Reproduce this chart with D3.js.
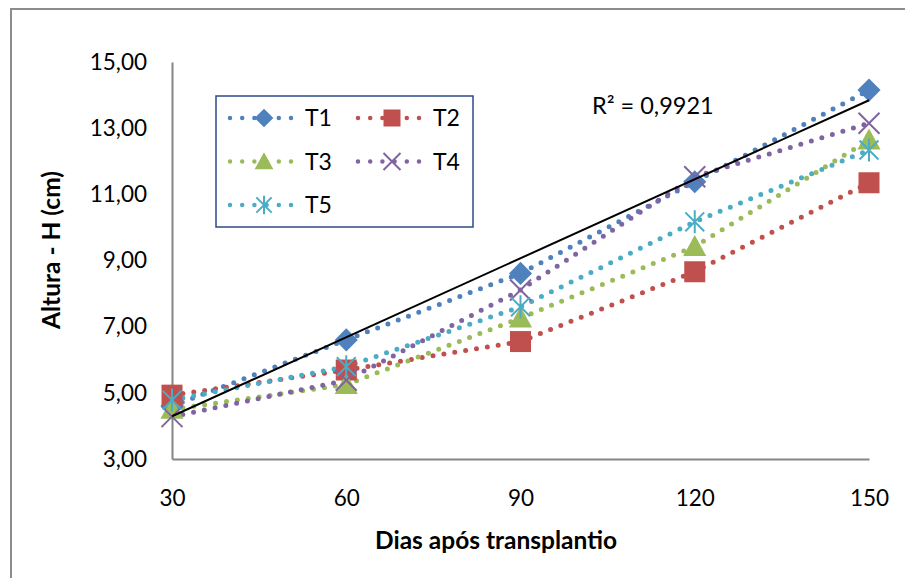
<!DOCTYPE html>
<html>
<head>
<meta charset="utf-8">
<script src="https://cdn.jsdelivr.net/npm/d3@7"></script>
<style>
  html, body { margin: 0; padding: 0; background: #fff; }
  svg { display: block; }
  text { font-family: Lato, "Open Sans", sans-serif; fill: #000; }
</style>
</head>
<body>
<svg id="chart" width="905" height="578"></svg>
<script>
// ---- data ----
const days = [30, 60, 90, 120, 150];
const T1 = [4.60, 6.60, 8.61, 11.38, 14.15];
const T2 = [4.93, 5.69, 6.55, 8.66, 11.35];
const T3 = [4.50, 5.25, 7.26, 9.42, 12.64];
const T4 = [4.28, 5.38, 8.11, 11.53, 13.15];
const T5 = [4.78, 5.79, 7.60, 10.17, 12.34];
const seriesNames = ["T1", "T2", "T3", "T4", "T5"];
const yTicks = [3, 5, 7, 9, 11, 13, 15];
const r2Label = "R² = 0,9921";
const xTitle = "Dias após transplantio";
const yTitle = "Altura - H (cm)";

const seriesValues = [T1, T2, T3, T4, T5];
const colors = ["#4F81BD", "#C0504D", "#9BBB59", "#8064A2", "#4BACC6"];
const shapes = ["diamond", "square", "triangle", "x", "star"];

const svg = d3.select("#chart");
// chart area border
svg.append("rect").attr("x", 11).attr("y", 9).attr("width", 920).attr("height", 600)
  .attr("fill", "#fff").attr("stroke", "#8c8c8c").attr("stroke-width", 2);

const x = d3.scaleLinear().domain([30, 150]).range([172, 869]);
const y = d3.scaleLinear().domain([3, 15]).range([459, 62]);
const fmt = v => d3.format(".2f")(v).replace(".", ",");

// axes
const yAxis = svg.append("g").attr("transform", `translate(${x(30)},0)`)
  .call(d3.axisLeft(y).tickValues(yTicks).tickSize(0).tickPadding(25).tickFormat(fmt));
const xAxis = svg.append("g").attr("transform", `translate(0,${y(3)})`)
  .call(d3.axisBottom(x).tickValues(days).tickSize(0).tickPadding(31).tickFormat(d3.format("d")));
[yAxis, xAxis].forEach(g => {
  g.select(".domain").attr("stroke", "#868686").attr("stroke-width", 2);
  g.selectAll("text").attr("font-size", 22.5).attr("font-family", "Lato, sans-serif").attr("fill", "#000");
});

// axis titles
svg.append("text").attr("x", 496).attr("y", 549).attr("text-anchor", "middle")
  .attr("font-size", 24.5).attr("font-weight", "bold").text(xTitle);
svg.append("text").attr("transform", "translate(60,250) rotate(-90)").attr("text-anchor", "middle")
  .attr("font-size", 24.5).attr("font-weight", "bold").text(yTitle);

// marker drawing
function marker(g, shape, color, cx, cy, s) {
  const k = s / 20;
  if (shape === "diamond") {
    g.append("path").attr("d", `M${cx},${cy - 11 * k}L${cx + 11 * k},${cy}L${cx},${cy + 11 * k}L${cx - 11 * k},${cy}Z`)
      .attr("fill", color);
  } else if (shape === "square") {
    g.append("rect").attr("x", cx - 10 * k).attr("y", cy - 10 * k).attr("width", 20 * k).attr("height", 20 * k)
      .attr("fill", color);
  } else if (shape === "triangle") {
    g.append("path").attr("d", `M${cx},${cy - 11 * k}L${cx + 11 * k},${cy + 9 * k}L${cx - 11 * k},${cy + 9 * k}Z`)
      .attr("fill", color);
  } else if (shape === "x") {
    const h = 10 * k;
    g.append("path").attr("d", `M${cx - h},${cy - h}L${cx + h},${cy + h}M${cx - h},${cy + h}L${cx + h},${cy - h}`)
      .attr("stroke", color).attr("stroke-width", 2).attr("fill", "none");
  } else if (shape === "star") {
    const h = 9 * k;
    g.append("path").attr("d", `M${cx - h},${cy - h}L${cx + h},${cy + h}M${cx - h},${cy + h}L${cx + h},${cy - h}M${cx},${cy - 11 * k}L${cx},${cy + 11 * k}`)
      .attr("stroke", color).attr("stroke-width", 2).attr("fill", "none");
  }
}

// series lines
const line = d3.line().x(d => x(d[0])).y(d => y(d[1]));
seriesValues.forEach((vals, i) => {
  svg.append("path").datum(days.map((d, j) => [d, vals[j]]))
    .attr("d", line).attr("fill", "none").attr("stroke", colors[i])
    .attr("stroke-width", 5).attr("stroke-linecap", "round").attr("stroke-dasharray", "0 11");
});
// markers
seriesValues.forEach((vals, i) => {
  const g = svg.append("g");
  days.forEach((d, j) => marker(g, shapes[i], colors[i], x(d), y(vals[j]), 21));
});

// linear trendline of T1
const mx = d3.mean(days), my = d3.mean(T1);
const slope = d3.sum(days.map((d, j) => (d - mx) * (T1[j] - my))) / d3.sum(days.map(d => (d - mx) ** 2));
const icpt = my - slope * mx;
svg.append("line").attr("x1", x(30)).attr("y1", y(icpt + slope * 30))
  .attr("x2", x(150)).attr("y2", y(icpt + slope * 150))
  .attr("stroke", "#000").attr("stroke-width", 2);
svg.append("text").attr("x", 592).attr("y", 114).attr("font-size", 23.5).text(r2Label);

// legend
const lg = svg.append("g");
lg.append("rect").attr("x", 216).attr("y", 96).attr("width", 257).attr("height", 131)
  .attr("fill", "#fff").attr("stroke", "#2c4a86").attr("stroke-width", 1.5);
seriesNames.forEach((name, i) => {
  const col = i % 2, row = Math.floor(i / 2);
  const x0 = 230 + col * 128, yy = 118 + row * 43.5;
  lg.append("line").attr("x1", x0).attr("x2", x0 + 61).attr("y1", yy).attr("y2", yy)
    .attr("stroke", colors[i]).attr("stroke-width", 4.5).attr("stroke-linecap", "round")
    .attr("stroke-dasharray", "0 12.2");
  marker(lg, shapes[i], colors[i], x0 + 34, yy, 17);
  lg.append("text").attr("x", x0 + 75).attr("y", yy + 8).attr("font-size", 23).text(name);
});
</script>
</body>
</html>
